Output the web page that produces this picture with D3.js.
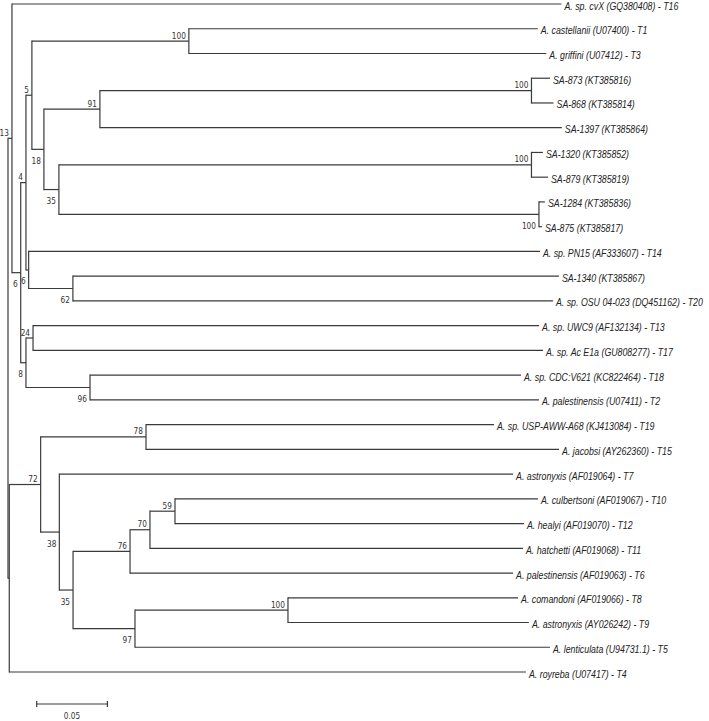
<!DOCTYPE html>
<html><head><meta charset="utf-8">
<script src="https://cdn.jsdelivr.net/npm/d3@7"></script>
<style>body{margin:0;background:#fff}</style>
</head><body>
<svg id="chart" width="709" height="721"></svg>
<script>
// ---- DATA (tree in pre-order: node id, parent id, branch length, bootstrap) ----
const nodeIds = [
  "root",
  "n13", "A. sp. cvX (GQ380408) - T16",
  "n6a", "n4", "n5", "n100a", "A. castellanii (U07400) - T1", "A. griffini (U07412) - T3",
  "n18", "n91", "n100b", "SA-873 (KT385816)", "SA-868 (KT385814)", "SA-1397 (KT385864)",
  "n35a", "n100c", "SA-1320 (KT385852)", "SA-879 (KT385819)",
  "n100d", "SA-1284 (KT385836)", "SA-875 (KT385817)",
  "n6b", "A. sp. PN15 (AF333607) - T14", "n62", "SA-1340 (KT385867)", "A. sp. OSU 04-023 (DQ451162) - T20",
  "n8", "n24", "A. sp. UWC9 (AF132134) - T13", "A. sp. Ac E1a (GU808277) - T17",
  "n96", "A. sp. CDC:V621 (KC822464) - T18", "A. palestinensis (U07411) - T2",
  "nB", "n72", "n78", "A. sp. USP-AWW-A68 (KJ413084) - T19", "A. jacobsi (AY262360) - T15",
  "n38", "A. astronyxis (AF019064) - T7", "n35b", "n76", "n70", "n59",
  "A. culbertsoni (AF019067) - T10", "A. healyi (AF019070) - T12", "A. hatchetti (AF019068) - T11",
  "A. palestinensis (AF019063) - T6", "n97", "n100e", "A. comandoni (AF019066) - T8",
  "A. astronyxis (AY026242) - T9", "A. lenticulata (U94731.1) - T5", "A. royreba (U07417) - T4"
];
const parentIds = [
  null,
  "root", "n13",
  "n13", "n6a", "n4", "n5", "n100a", "n100a",
  "n5", "n18", "n91", "n100b", "n100b", "n91",
  "n18", "n35a", "n100c", "n100c",
  "n35a", "n100d", "n100d",
  "n4", "n6b", "n6b", "n62", "n62",
  "n6a", "n8", "n24", "n24",
  "n8", "n96", "n96",
  "root", "nB", "n72", "n78", "n78",
  "n72", "n38", "n38", "n35b", "n76", "n70",
  "n59", "n59", "n70",
  "n76", "n35b", "n97", "n100e",
  "n100e", "n97", "nB"
];
const branchLengths = [
  0,
  0.0028, 0.3886,
  0.0062, 0.0037, 0.0042, 0.1110, 0.2468, 0.2528,
  0.0085, 0.0396, 0.3052, 0.0131, 0.0156, 0.3267,
  0.0106, 0.3342, 0.0081, 0.0117,
  0.3395, 0.0042, 0.0021,
  0.0019, 0.3616, 0.0313, 0.3437, 0.3395,
  0.0037, 0.0050, 0.3579, 0.3607,
  0.0453, 0.3048, 0.3175,
  0.0009, 0.0222, 0.0745, 0.2461, 0.2921,
  0.0132, 0.3209, 0.0097, 0.0403, 0.0141, 0.0177,
  0.2567, 0.2468, 0.2638,
  0.2709, 0.0438, 0.1082, 0.1627,
  0.1704, 0.2935, 0.3654
];
const bootstrapValues = [
  null,
  13, null,
  6, 4, 5, 100, null, null,
  18, 91, 100, null, null, null,
  35, 100, null, null,
  100, null, null,
  6, null, 62, null, null,
  8, 24, null, null,
  96, null, null,
  null, 72, 78, null, null,
  38, null, 35, 76, 70, 59,
  null, null, null,
  null, 97, 100, null,
  null, null, null
];
const scaleBarValue = 0.05;
const scaleBarLabel = "0.05";

// ---- LAYOUT ----
const svg = d3.select("#chart");
const rows = nodeIds.map((id, i) => ({id, parent: parentIds[i], length: branchLengths[i], support: bootstrapValues[i]}));
const root = d3.stratify().id(d => d.id).parentId(d => d.parent)(rows);
root.eachBefore(n => { n.dist = n.parent ? n.parent.dist + n.data.length : 0; });
const leaves = root.leaves();

const x = d3.scaleLinear().domain([0, 0.4]).range([8, 8 + 0.4 * 1414]);
const y = d3.scaleLinear().domain([0, leaves.length - 1]).range([4, 672]);
leaves.forEach((l, i) => { l.yPos = y(i); });
root.eachAfter(n => {
  if (n.children) n.yPos = (n.children[0].yPos + n.children[n.children.length - 1].yPos) / 2;
});
const nodes = root.descendants();

const lineColor = "#3a3a3a";
const g = svg.append("g");

// vertical connectors
g.selectAll("path.v").data(nodes.filter(n => n.children)).join("path")
  .attr("class", "v")
  .attr("d", n => `M${x(n.dist)},${n.children[0].yPos}V${n.children[n.children.length - 1].yPos}`)
  .attr("fill", "none").attr("stroke", lineColor).attr("stroke-width", 1.2).attr("stroke-linecap", "square");

// horizontal branches
g.selectAll("path.h").data(nodes.filter(n => n.parent)).join("path")
  .attr("class", "h")
  .attr("d", n => `M${x(n.parent.dist)},${n.yPos}H${x(n.dist)}`)
  .attr("fill", "none").attr("stroke", lineColor).attr("stroke-width", 1.2);

// leaf labels
g.selectAll("text.leaf").data(leaves).join("text")
  .attr("class", "leaf")
  .attr("transform", n => `translate(${x(n.dist) + 3},${n.yPos + 5.5}) scale(0.8,1)`)
  .attr("font-family", "'Liberation Sans', Arial, sans-serif")
  .attr("font-style", "italic")
  .attr("font-size", 11)
  .attr("fill", "#222")
  .text(n => n.id);

// bootstrap labels
g.selectAll("text.bs").data(nodes.filter(n => n.children && n.data.support != null)).join("text")
  .attr("class", "bs")
  .attr("transform", n => {
    const upper = n.parent.children[0] === n;
    return `translate(${x(n.dist) - 3},${upper ? n.yPos - 2.5 : n.yPos + 14.5}) scale(0.82,1)`;
  })
  .attr("text-anchor", "end")
  .attr("font-family", "'DejaVu Sans', sans-serif")
  .attr("font-size", 9)
  .attr("fill", "#333")
  .text(n => n.data.support);

// scale bar
const barX0 = 36.7, barY = 704;
const barW = x(scaleBarValue) - x(0);
const sb = svg.append("g").attr("transform", `translate(${barX0},${barY})`);
sb.append("path").attr("d", `M0,0H${barW}M0,-3V3M${barW},-3V3`)
  .attr("fill", "none").attr("stroke", lineColor).attr("stroke-width", 1.2);
sb.append("text").attr("transform", `translate(${barW / 2},${15}) scale(0.82,1)`)
  .attr("text-anchor", "middle")
  .attr("font-family", "'DejaVu Sans', sans-serif")
  .attr("font-size", 9).attr("fill", "#333")
  .text(scaleBarLabel);
</script>
</body></html>
